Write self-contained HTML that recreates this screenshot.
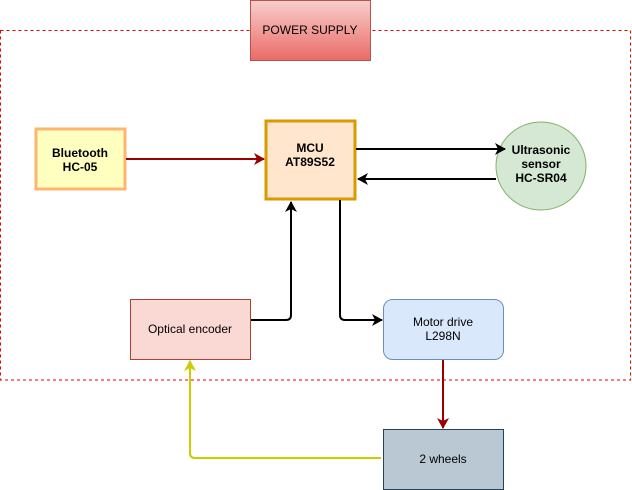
<!DOCTYPE html>
<html><head><style>body{margin:0;background:#fff}svg{display:block}text{font-family:"Liberation Sans",Arial,sans-serif;font-size:12px;fill:#000}</style></head><body>
<svg width="632" height="490" viewBox="0 0 632 490">
<defs>
<linearGradient id="ps" x1="0" y1="0" x2="0" y2="1"><stop offset="0" stop-color="#f8cecc"/><stop offset="1" stop-color="#ea6b66"/></linearGradient>
<marker id="ab" markerWidth="12" markerHeight="12" refX="10" refY="6" orient="auto" markerUnits="userSpaceOnUse"><path d="M0,0 L11,6 L0,12 L3,6 Z" fill="#000"/></marker>
<marker id="ar" markerWidth="12" markerHeight="12" refX="10" refY="6" orient="auto" markerUnits="userSpaceOnUse"><path d="M0,0 L11,6 L0,12 L3,6 Z" fill="#990000"/></marker>
<marker id="ay" markerWidth="12" markerHeight="12" refX="10" refY="6" orient="auto" markerUnits="userSpaceOnUse"><path d="M0,0 L11,6 L0,12 L3,6 Z" fill="#cccc00"/></marker>
</defs>
<rect x="0.5" y="30.5" width="630" height="349.5" fill="none" stroke="#e00" stroke-dasharray="3,3"/>
<rect x="250.5" y="0.5" width="120" height="60" fill="url(#ps)" stroke="#b85450"/>
<text x="310" y="34" text-anchor="middle">POWER SUPPLY</text>
<rect x="36" y="129" width="89" height="60" fill="#ffffc0" stroke="#ffb570" stroke-width="3"/>
<text x="80" y="157" text-anchor="middle" font-weight="bold">Bluetooth</text>
<text x="80" y="171" text-anchor="middle" font-weight="bold">HC-05</text>
<rect x="266" y="121" width="89" height="78" fill="#ffe6cc" stroke="#d79b00" stroke-width="3"/>
<text x="310" y="152" text-anchor="middle" font-weight="bold">MCU</text>
<text x="310" y="166" text-anchor="middle" font-weight="bold">AT89S52</text>
<ellipse cx="541" cy="166" rx="45" ry="44" fill="#d5e8d4" stroke="#82b366"/>
<text x="541" y="154" text-anchor="middle" font-weight="bold">Ultrasonic</text>
<text x="541" y="168" text-anchor="middle" font-weight="bold">sensor</text>
<text x="541" y="182" text-anchor="middle" font-weight="bold">HC-SR04</text>
<rect x="130.5" y="299.5" width="120" height="60" fill="#fad9d5" stroke="#ae4132"/>
<text x="190" y="333" text-anchor="middle">Optical encoder</text>
<rect x="383.5" y="299.5" width="120" height="60" rx="9" fill="#dae8fc" stroke="#6c8ebf"/>
<text x="443" y="326" text-anchor="middle">Motor drive</text>
<text x="443" y="340" text-anchor="middle">L298N</text>
<rect x="383.5" y="429.5" width="120" height="60" fill="#bac8d3" stroke="#23445d"/>
<text x="443" y="463" text-anchor="middle">2 wheels</text>
<path d="M126,159 H264" stroke="#990000" stroke-width="2" fill="none" marker-end="url(#ar)"/>
<path d="M356,149 H505" stroke="#000" stroke-width="2" fill="none" marker-end="url(#ab)"/>
<path d="M496,179 H358" stroke="#000" stroke-width="2" fill="none" marker-end="url(#ab)"/>
<path d="M251,320 H286 Q291,320 291,315 V202" stroke="#000" stroke-width="2" fill="none" marker-end="url(#ab)"/>
<path d="M340,200 V315 Q340,320 345,320 H382" stroke="#000" stroke-width="2" fill="none" marker-end="url(#ab)"/>
<path d="M443,360 V428" stroke="#990000" stroke-width="2" fill="none" marker-end="url(#ar)"/>
<path d="M381,458 H195 Q190,458 190,453 V361" stroke="#cccc00" stroke-width="2" fill="none" marker-end="url(#ay)"/>
</svg>
</body></html>
